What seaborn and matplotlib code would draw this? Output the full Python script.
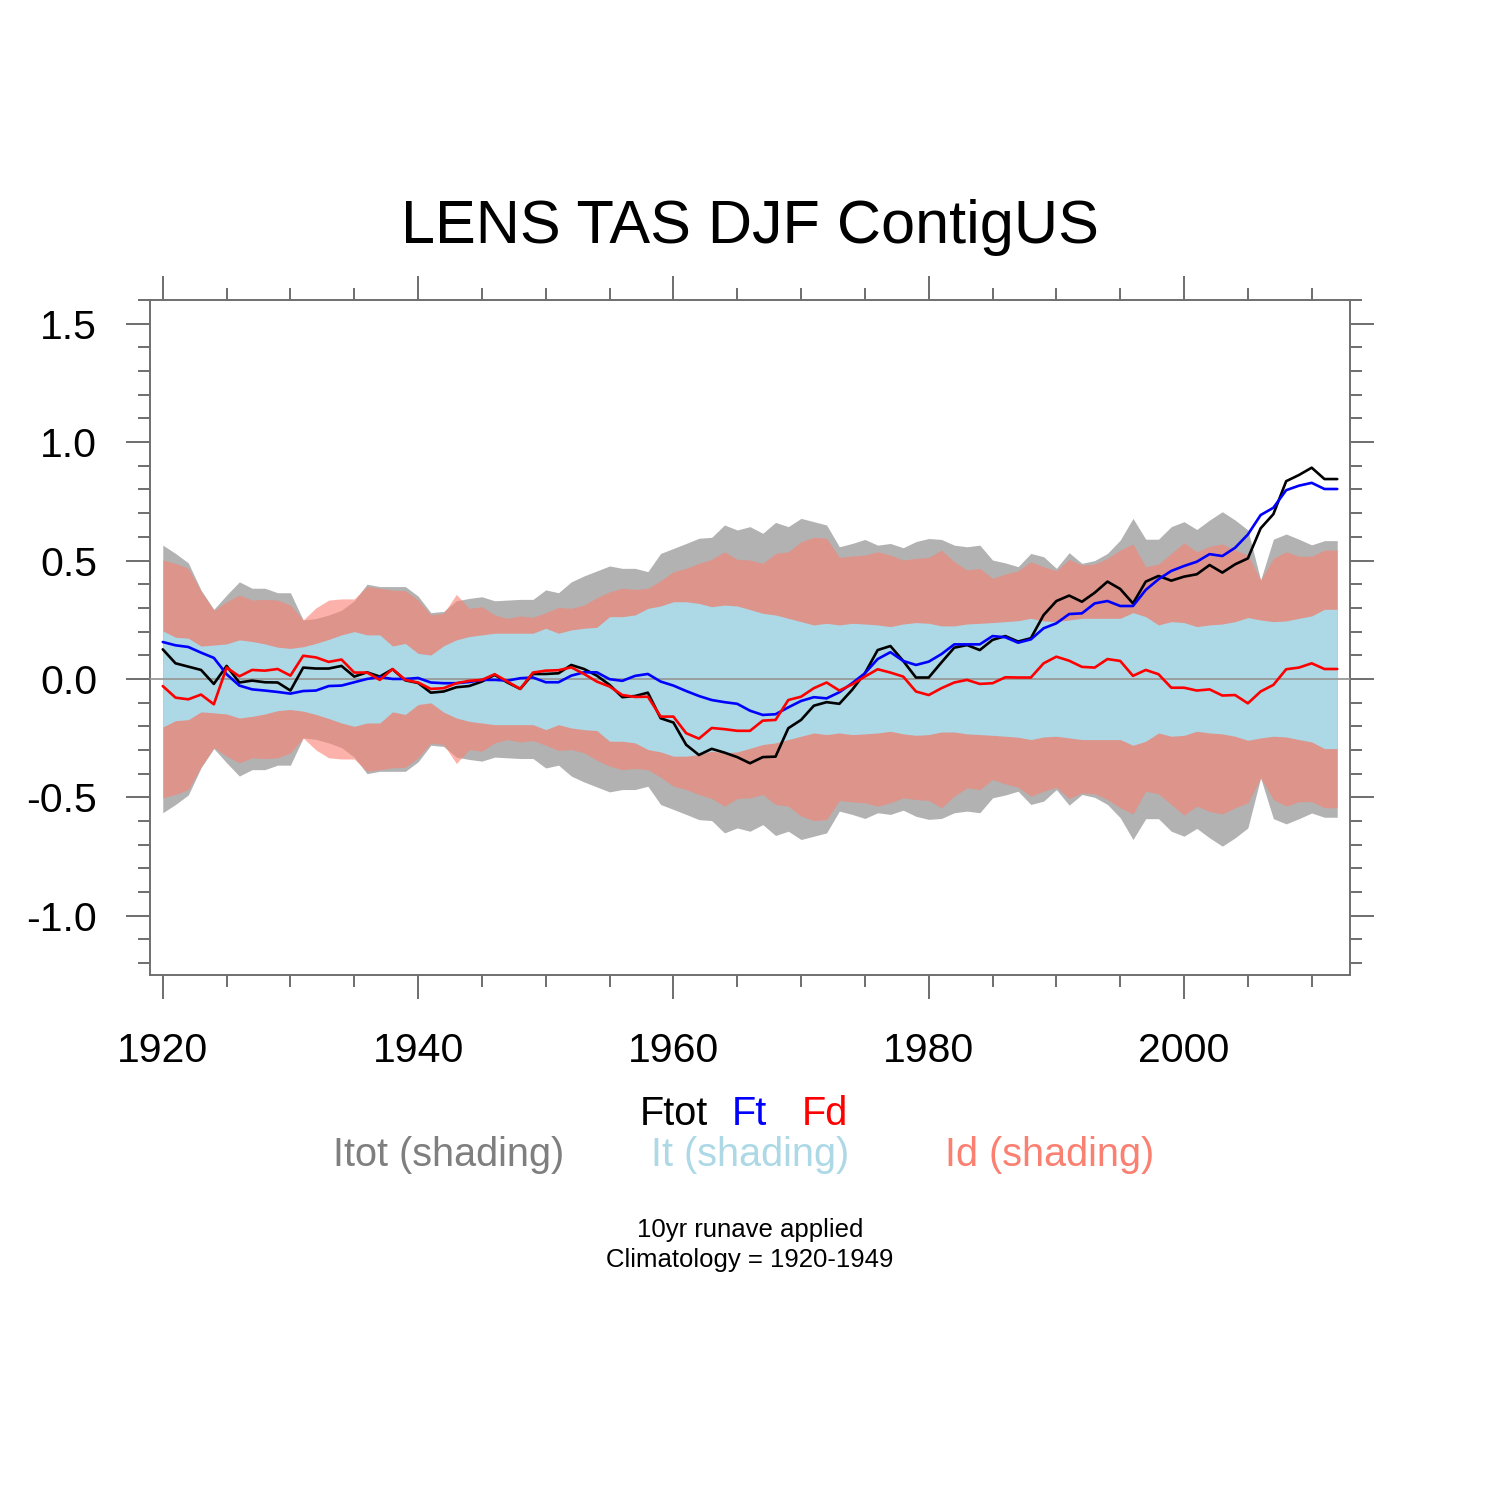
import matplotlib
matplotlib.use("Agg")
import matplotlib.pyplot as plt
from matplotlib.ticker import MultipleLocator, FormatStrFormatter
import seaborn as sns

years = list(range(1920, 2013))

# ensemble-mean forced responses (lines)
ftot = [0.125, 0.066, 0.052, 0.038, -0.021, 0.055, -0.015, -0.007, -0.014, -0.015,
        -0.049, 0.048, 0.044, 0.044, 0.055, 0.010, 0.028, 0.010, 0.041, -0.006,
        -0.017, -0.058, -0.053, -0.035, -0.030, -0.011, 0.017, -0.015, -0.042, 0.021,
        0.021, 0.024, 0.059, 0.042, 0.014, -0.025, -0.077, -0.072, -0.058, -0.166,
        -0.184, -0.278, -0.321, -0.295, -0.311, -0.330, -0.356, -0.330, -0.328, -0.208,
        -0.173, -0.113, -0.098, -0.105, -0.046, 0.024, 0.122, 0.139, 0.076, 0.006,
        0.006, 0.070, 0.132, 0.143, 0.122, 0.165, 0.181, 0.158, 0.172, 0.270,
        0.329, 0.352, 0.326, 0.364, 0.411, 0.380, 0.319, 0.411, 0.435, 0.415,
        0.432, 0.442, 0.481, 0.449, 0.484, 0.509, 0.636, 0.696, 0.835, 0.861,
        0.892, 0.844, 0.844]
ft = [0.156, 0.142, 0.135, 0.111, 0.089, 0.020, -0.028, -0.044, -0.049, -0.055,
      -0.062, -0.051, -0.049, -0.030, -0.028, -0.014, 0.000, 0.008, 0.000, 0.000,
      0.004, -0.015, -0.018, -0.018, -0.013, -0.004, -0.004, -0.007, 0.003, 0.006,
      -0.014, -0.014, 0.014, 0.028, 0.028, -0.001, -0.008, 0.013, 0.021, -0.011,
      -0.028, -0.051, -0.072, -0.089, -0.098, -0.105, -0.134, -0.152, -0.149, -0.120,
      -0.093, -0.077, -0.082, -0.056, -0.018, 0.024, 0.084, 0.113, 0.076, 0.059,
      0.073, 0.105, 0.146, 0.146, 0.146, 0.181, 0.176, 0.153, 0.167, 0.214,
      0.235, 0.274, 0.277, 0.319, 0.329, 0.308, 0.308, 0.376, 0.421, 0.456,
      0.477, 0.495, 0.527, 0.519, 0.554, 0.610, 0.692, 0.723, 0.797, 0.816,
      0.828, 0.802, 0.802]
fd = [-0.030, -0.079, -0.086, -0.066, -0.107, 0.048, 0.011, 0.038, 0.035, 0.042,
      0.014, 0.098, 0.091, 0.072, 0.082, 0.027, 0.027, -0.004, 0.042, -0.004,
      -0.015, -0.042, -0.039, -0.018, -0.008, -0.004, 0.020, -0.011, -0.042, 0.027,
      0.035, 0.037, 0.049, 0.021, -0.011, -0.032, -0.068, -0.076, -0.075, -0.159,
      -0.159, -0.229, -0.252, -0.207, -0.212, -0.219, -0.219, -0.176, -0.173, -0.089,
      -0.075, -0.039, -0.015, -0.049, -0.023, 0.010, 0.041, 0.027, 0.010, -0.053,
      -0.068, -0.039, -0.015, -0.004, -0.021, -0.018, 0.007, 0.006, 0.006, 0.066,
      0.094, 0.077, 0.051, 0.048, 0.084, 0.076, 0.013, 0.038, 0.020, -0.037,
      -0.037, -0.049, -0.044, -0.070, -0.068, -0.103, -0.053, -0.025, 0.041, 0.048,
      0.066, 0.042, 0.042]

# internal variability spread (half-width of symmetric shading)
itot = [0.565, 0.530, 0.490, 0.375, 0.294, 0.354, 0.410, 0.383, 0.383, 0.364,
        0.364, 0.249, 0.255, 0.270, 0.290, 0.330, 0.400, 0.390, 0.390, 0.390,
        0.350, 0.280, 0.285, 0.330, 0.340, 0.347, 0.330, 0.333, 0.336, 0.336,
        0.376, 0.364, 0.410, 0.435, 0.456, 0.477, 0.467, 0.467, 0.453, 0.530,
        0.551, 0.572, 0.594, 0.598, 0.650, 0.629, 0.643, 0.615, 0.661, 0.643,
        0.678, 0.664, 0.650, 0.558, 0.572, 0.589, 0.565, 0.572, 0.554, 0.580,
        0.593, 0.589, 0.565, 0.558, 0.565, 0.502, 0.490, 0.474, 0.530, 0.516,
        0.467, 0.533, 0.488, 0.500, 0.530, 0.586, 0.678, 0.590, 0.590, 0.643,
        0.664, 0.631, 0.671, 0.706, 0.671, 0.629, 0.418, 0.590, 0.612, 0.590,
        0.566, 0.584, 0.584]
idyn = [0.502, 0.488, 0.467, 0.370, 0.290, 0.326, 0.354, 0.333, 0.336, 0.333,
        0.312, 0.249, 0.300, 0.333, 0.338, 0.338, 0.390, 0.383, 0.375, 0.373,
        0.333, 0.270, 0.277, 0.357, 0.298, 0.305, 0.270, 0.256, 0.266, 0.260,
        0.280, 0.302, 0.298, 0.312, 0.343, 0.368, 0.383, 0.378, 0.383, 0.415,
        0.453, 0.467, 0.488, 0.505, 0.537, 0.505, 0.502, 0.488, 0.530, 0.537,
        0.579, 0.598, 0.594, 0.513, 0.519, 0.523, 0.537, 0.523, 0.502, 0.509,
        0.513, 0.544, 0.495, 0.460, 0.467, 0.425, 0.443, 0.457, 0.495, 0.474,
        0.457, 0.505, 0.481, 0.485, 0.509, 0.544, 0.570, 0.474, 0.485, 0.530,
        0.575, 0.537, 0.560, 0.570, 0.544, 0.523, 0.418, 0.509, 0.537, 0.518,
        0.518, 0.544, 0.544]
ither = [0.203, 0.176, 0.172, 0.139, 0.143, 0.148, 0.165, 0.158, 0.148, 0.134,
         0.129, 0.136, 0.150, 0.167, 0.186, 0.200, 0.186, 0.186, 0.139, 0.150,
         0.108, 0.101, 0.140, 0.165, 0.179, 0.186, 0.193, 0.193, 0.193, 0.193,
         0.214, 0.193, 0.207, 0.214, 0.218, 0.263, 0.263, 0.270, 0.298, 0.308,
         0.326, 0.326, 0.319, 0.305, 0.312, 0.308, 0.293, 0.277, 0.270, 0.256,
         0.242, 0.228, 0.235, 0.228, 0.235, 0.232, 0.228, 0.221, 0.232, 0.238,
         0.235, 0.224, 0.224, 0.232, 0.235, 0.238, 0.242, 0.246, 0.256, 0.245,
         0.242, 0.249, 0.256, 0.256, 0.256, 0.256, 0.280, 0.263, 0.228, 0.242,
         0.238, 0.221, 0.228, 0.232, 0.242, 0.259, 0.249, 0.242, 0.245, 0.256,
         0.266, 0.294, 0.294]

sns.set_style("white")
plt.rcParams["font.family"] = ["Liberation Sans", "DejaVu Sans"]
plt.rcParams["axes.unicode_minus"] = False
plt.rcParams["text.color"] = "black"

fig = plt.figure(figsize=(15, 15), dpi=100)
ax = fig.add_axes([0.1, 0.35, 0.8, 0.45])

# shading
ax.fill_between(years, [-v for v in itot], itot, color="#808080", alpha=0.6, lw=0, zorder=1)
ax.fill_between(years, [-v for v in idyn], idyn, color="salmon", alpha=0.6, lw=0, zorder=2)
ax.fill_between(years, [-v for v in ither], ither, color="lightblue", lw=0, zorder=3)
ax.axhline(0, color="#999999", lw=1.3, zorder=4)

sns.lineplot(x=years, y=ftot, color="black", lw=1.9, ax=ax, zorder=5)
sns.lineplot(x=years, y=ft, color="blue", lw=1.9, ax=ax, zorder=6)
sns.lineplot(x=years, y=fd, color="red", lw=1.9, ax=ax, zorder=7)

ax.set_xlim(1919, 2013)
ax.set_ylim(-1.25, 1.6)
ax.set_xticks([1920, 1940, 1960, 1980, 2000])
ax.xaxis.set_minor_locator(MultipleLocator(5))
ax.set_yticks([-1.0, -0.5, 0.0, 0.5, 1.0, 1.5])
ax.yaxis.set_minor_locator(MultipleLocator(0.1))
ax.yaxis.set_major_formatter(FormatStrFormatter("%.1f"))
ax.set_xlabel("")
ax.set_ylabel("")

ax.tick_params(which="both", direction="out", top=True, right=True,
               bottom=True, left=True, color="#555555", width=1.2)
ax.tick_params(which="major", length=17, labelsize=29.5, labelcolor="black")
ax.tick_params(which="minor", length=8.5)
ax.tick_params(axis="x", which="major", pad=24)
ax.tick_params(axis="y", which="major", pad=21)
for sp in ax.spines.values():
    sp.set_color("#6f6f6f")
    sp.set_linewidth(1.4)

fig.text(0.5, 0.838, "LENS TAS DJF ContigUS", color="black", ha="center",
         va="baseline", fontsize=44)

fig.text(0.449, 0.25, "Ftot", color="black", ha="center", va="baseline", fontsize=28.5)
fig.text(0.4995, 0.25, "Ft", color="blue", ha="center", va="baseline", fontsize=28.5)
fig.text(0.55, 0.25, "Fd", color="red", ha="center", va="baseline", fontsize=28.5)

fig.text(0.2993, 0.2227, "Itot (shading)", color="#7f7f7f", ha="center", va="baseline", fontsize=28.5)
fig.text(0.5, 0.2227, "It (shading)", color="lightblue", ha="center", va="baseline", fontsize=28.5)
fig.text(0.7, 0.2227, "Id (shading)", color="salmon", ha="center", va="baseline", fontsize=28.5)

fig.text(0.5, 0.1753, "10yr runave applied", color="black", ha="center", va="baseline", fontsize=18.5)
fig.text(0.5, 0.1553, "Climatology = 1920-1949", color="black", ha="center", va="baseline", fontsize=18.5)

fig.savefig("out.png", dpi=100)
